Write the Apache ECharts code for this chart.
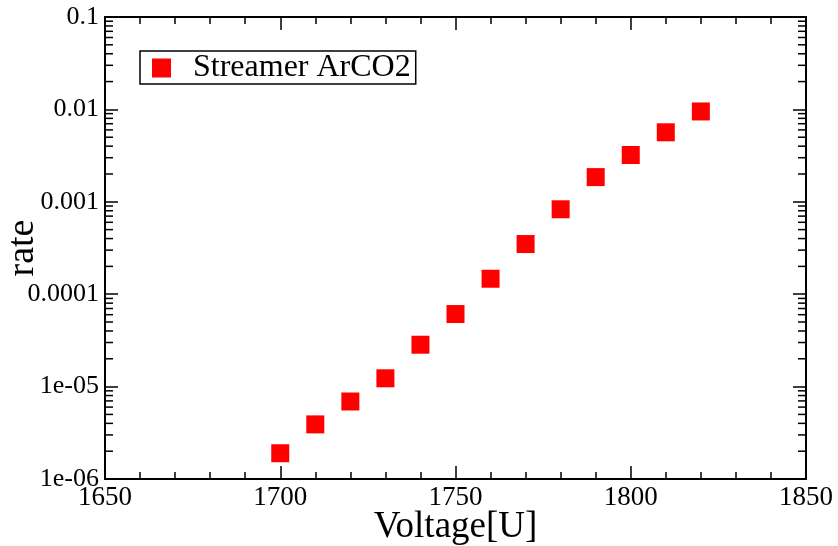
<!DOCTYPE html>
<html>
<head>
<meta charset="utf-8">
<script src="https://cdn.jsdelivr.net/npm/echarts@6/dist/echarts.min.js"></script>
<style>
  html, body { margin: 0; padding: 0; background: #fff; }
  #chart { width: 838px; height: 546px; }
</style>
</head>
<body>
<div id="chart"></div>
<script>
// data
const voltage = [1700, 1710, 1720, 1730, 1740, 1750, 1760, 1770, 1780, 1790, 1800, 1810, 1820];
const rate = [1.9e-6, 3.9e-6, 6.9e-6, 1.23e-5, 2.84e-5, 6.1e-5, 1.47e-4, 3.49e-4, 8.3e-4, 1.85e-3, 3.21e-3, 5.65e-3, 9.5e-3];
const seriesName = 'Streamer ArCO2';
const yTickLabels = {
  '0.000001': '1e-06', '0.00001': '1e-05', '0.0001': '0.0001',
  '0.001': '0.001', '0.01': '0.01', '0.1': '0.1'
};

const FONT = '"Liberation Serif", "DejaVu Serif", serif';

// log minor ticks 2..9 in each decade
const minorVals = [];
for (let e = -6; e < -1; e++) {
  for (let m = 2; m <= 9; m++) minorVals.push([1650, +(m * Math.pow(10, e)).toPrecision(3)]);
}

const myChart = echarts.init(document.getElementById('chart'));

const pts = voltage.map(function (v, i) { return [v, rate[i]]; });

function xAx(pos, showLabel) {
  return {
    type: 'value', position: pos, min: 1650, max: 1850, interval: 50,
    name: showLabel ? 'Voltage[U]' : '', nameLocation: 'middle', nameGap: 30,
    nameMoveOverlap: false,
    nameTextStyle: { fontFamily: FONT, fontSize: 37, color: '#000', verticalAlign: 'top' },
    axisLine: { show: true, onZero: false, lineStyle: { color: '#000', width: 2 } },
    axisTick: { show: true, inside: true, length: 13, lineStyle: { color: '#000', width: 1.5 } },
    minorTick: { show: true, splitNumber: 5, length: 7, lineStyle: { color: '#000', width: 1.5 } },
    axisLabel: {
      show: showLabel, fontFamily: FONT, fontSize: 27, color: '#000', margin: 5,
      formatter: function (v) { return String(v); }
    },
    splitLine: { show: false }
  };
}

function yAx(pos, showLabel) {
  return {
    type: 'log', position: pos, min: 1e-6, max: 0.1, logBase: 10,
    name: showLabel ? 'rate' : '', nameLocation: 'middle', nameGap: 63,
    nameMoveOverlap: false,
    nameTextStyle: { fontFamily: FONT, fontSize: 38, color: '#000' },
    axisLine: { show: true, onZero: false, lineStyle: { color: '#000', width: 2 } },
    axisTick: { show: true, inside: true, length: 13, lineStyle: { color: '#000', width: 1.5 } },
    axisLabel: {
      show: showLabel, fontFamily: FONT, fontSize: 26, color: '#000', margin: 6,
      formatter: function (v) { return yTickLabels[String(+v.toPrecision(3))] || ''; }
    },
    splitLine: { show: false }
  };
}

const option = {
  animation: false,
  backgroundColor: '#fff',
  grid: { left: 105, right: 32, top: 17, bottom: 67, containLabel: false, outerBoundsMode: 'none' },
  legend: {
    left: 140, top: 51,
    data: [seriesName],
    icon: 'rect', itemWidth: 19, itemHeight: 19,
    borderColor: '#000', borderWidth: 1.5, borderRadius: 0,
    padding: [1, 5, 0, 12],
    textStyle: { fontFamily: FONT, fontSize: 32, color: '#000', padding: [0, 0, 0, 17] }
  },
  xAxis: [xAx('bottom', true), xAx('top', false)],
  yAxis: [yAx('left', true), yAx('right', false)],
  series: [{
    name: seriesName,
    type: 'scatter',
    symbol: 'rect',
    symbolSize: 18,
    itemStyle: { color: '#ff0000', opacity: 1 },
    data: pts,
    z: 3
  }, {
    // log minor ticks on left and right frame edges
    name: 'minorTicks',
    type: 'custom',
    silent: true,
    clip: false,
    data: minorVals,
    encode: { x: 0, y: 1 },
    renderItem: function (params, api) {
      const p0 = api.coord([1650, api.value(1)]);
      const p1 = api.coord([1850, api.value(1)]);
      const st = { stroke: '#000', lineWidth: 1.5 };
      return {
        type: 'group',
        children: [
          { type: 'line', shape: { x1: p0[0], y1: p0[1], x2: p0[0] + 8, y2: p0[1] }, style: st },
          { type: 'line', shape: { x1: p1[0], y1: p1[1], x2: p1[0] - 8, y2: p1[1] }, style: st }
        ]
      };
    }
  }]
};

myChart.setOption(option);
</script>
</body>
</html>
